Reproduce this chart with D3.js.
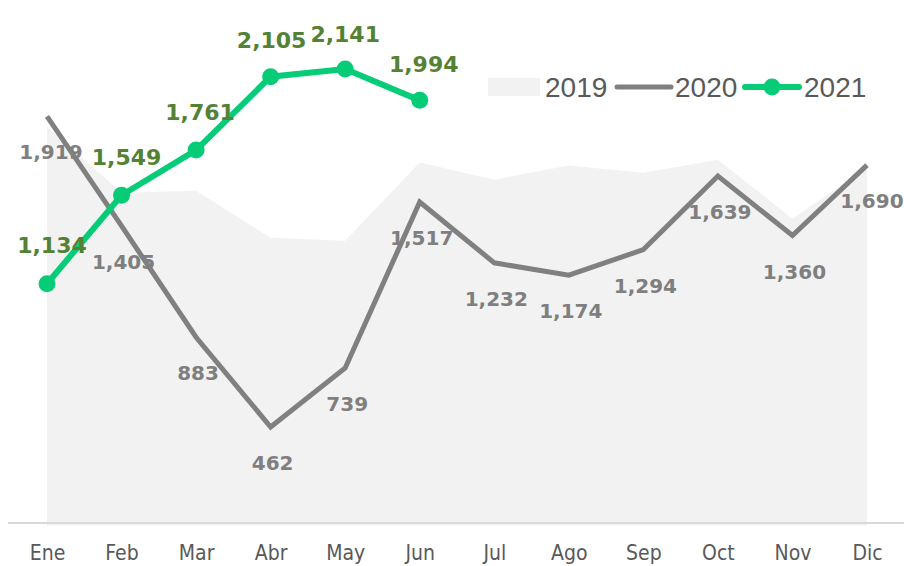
<!DOCTYPE html>
<html>
  <head>
    <meta charset="utf-8">
    <script type="text/javascript" src="https://d3js.org/d3.v7.min.js"></script>
    <title></title>
  </head>
  <style media="screen">
    body { margin: 0; background: #fff; }
  </style>
  <body>
    <script type="text/javascript">

    var months = ["Ene", "Feb", "Mar", "Abr", "May", "Jun", "Jul", "Ago", "Sep", "Oct", "Nov", "Dic"];
    var v2019 = [1870, 1561, 1570, 1350, 1336, 1702, 1622, 1688, 1655, 1716, 1439, 1680];
    var v2020 = [1919, 1405, 883, 462, 739, 1517, 1232, 1174, 1294, 1639, 1360, 1690];
    var v2021 = [1134, 1549, 1761, 2105, 2141, 1994];

    var width = 904, height = 566;

    var x = d3.scalePoint().domain(months).range([47, 867]);
    var y = d3.scaleLinear().domain([0, 2400]).range([525.5, 13.8]);

    var fmt = d3.format(",");

    var svg = d3.select("body").append("svg")
        .attr("width", width)
        .attr("height", height);

    // 2019 area
    var area = d3.area()
      .x(function(d, i){ return x(months[i]); })
      .y0(y(0))
      .y1(function(d){ return y(d); });

    svg.append("path")
        .datum(v2019)
        .attr("d", area)
        .attr("fill", "#f2f2f2");

    // axis
    var xAxis = d3.axisBottom(x).tickSize(0).tickPadding(22);
    var gx = svg.append("g")
        .attr("transform", "translate(0," + 523 + ")")
        .call(xAxis);
    gx.select(".domain").remove();
    gx.append("line")
        .attr("x1", 8).attr("x2", 904)
        .attr("stroke", "#d9d9d9").attr("stroke-width", 2);
    gx.selectAll("text")
        .attr("fill", "#595959")
        .style("font-family", "'Liberation Sans Narrow', 'DejaVu Sans Condensed', sans-serif")
        .style("font-size", "21px");

    // 2020 line
    var line = d3.line()
      .x(function(d, i){ return x(months[i]); })
      .y(function(d){ return y(d); });

    svg.append("path")
        .datum(v2020)
        .attr("d", line)
        .attr("fill", "none")
        .attr("stroke", "#808080")
        .attr("stroke-width", 5);

    svg.selectAll(".lab2020")
        .data(v2020)
      .enter().append("text")
        .attr("class", "lab2020")
        .attr("x", function(d, i){ return x(months[i]) + (i == 0 ? 4 : (i == 11 ? 5 : 2)); })
        .attr("y", function(d){ return y(d) + 43; })
        .attr("text-anchor", "middle")
        .attr("fill", "#7f7f7f")
        .style("font-family", "'DejaVu Sans', sans-serif")
        .style("font-weight", "bold")
        .style("font-size", "20px")
        .text(function(d){ return fmt(d); });

    // 2021 line
    svg.append("path")
        .datum(v2021)
        .attr("d", line)
        .attr("fill", "none")
        .attr("stroke", "#06cc78")
        .attr("stroke-width", 6);

    svg.selectAll(".dot2021")
        .data(v2021)
      .enter().append("circle")
        .attr("cx", function(d, i){ return x(months[i]); })
        .attr("cy", function(d){ return y(d); })
        .attr("r", 8.5)
        .attr("fill", "#06cc78");

    svg.selectAll(".lab2021")
        .data(v2021)
      .enter().append("text")
        .attr("class", "lab2021")
        .attr("x", function(d, i){ return x(months[i]) + [5, 5, 4, 1, 0, 4][i]; })
        .attr("y", function(d, i){ return y(d) - [31, 30, 30, 29, 27, 28][i]; })
        .attr("text-anchor", "middle")
        .attr("fill", "#548235")
        .style("font-family", "'DejaVu Sans', sans-serif")
        .style("font-weight", "bold")
        .style("font-size", "22px")
        .text(function(d){ return fmt(d); });

    // legend
    var leg = svg.append("g")
        .style("font-family", "'Liberation Sans', Arial, sans-serif")
        .style("font-size", "28px");

    leg.append("rect")
        .attr("x", 488).attr("y", 78).attr("width", 52).attr("height", 18)
        .attr("fill", "#f2f2f2");
    leg.append("text").attr("x", 545).attr("y", 97).attr("fill", "#595959").text("2019");

    leg.append("line")
        .attr("x1", 617).attr("x2", 671).attr("y1", 87).attr("y2", 87)
        .attr("stroke", "#808080").attr("stroke-width", 5).attr("stroke-linecap", "round");
    leg.append("text").attr("x", 675).attr("y", 97).attr("fill", "#595959").text("2020");

    leg.append("line")
        .attr("x1", 745).attr("x2", 799).attr("y1", 87).attr("y2", 87)
        .attr("stroke", "#06cc78").attr("stroke-width", 6).attr("stroke-linecap", "round");
    leg.append("circle")
        .attr("cx", 772).attr("cy", 87).attr("r", 8.5)
        .attr("fill", "#06cc78");
    leg.append("text").attr("x", 804).attr("y", 97).attr("fill", "#595959").text("2021");

    </script>
  </body>
</html>
